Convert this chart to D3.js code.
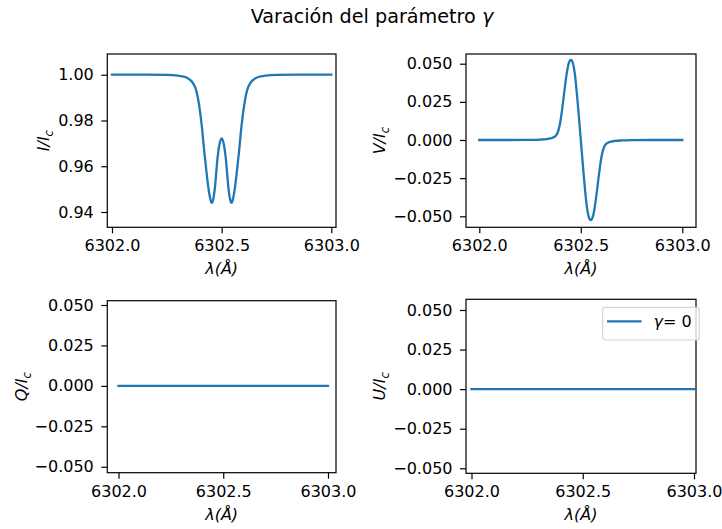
<!DOCTYPE html>
<html>
<head>
<meta charset="utf-8">
<script src="https://cdn.jsdelivr.net/npm/d3@7"></script>
<style>
  body { margin: 0; background: #fff; }
  text { font-family: "DejaVu Sans", sans-serif; fill: #000; }
</style>
</head>
<body>
<svg id="chart" width="722" height="529"></svg>
<script>
// Wavelength grid (Å) for the Fe I 6302.5 line profiles
const wavelength = [
  6302.000, 6302.150, 6302.250, 6302.300, 6302.330, 6302.350, 6302.360, 6302.370,
  6302.383, 6302.390, 6302.398, 6302.409, 6302.421, 6302.433, 6302.439, 6302.444,
  6302.450, 6302.454, 6302.458, 6302.462, 6302.470, 6302.476, 6302.482, 6302.491,
  6302.500,
  6302.509, 6302.518, 6302.524, 6302.530, 6302.538, 6302.542, 6302.546, 6302.550,
  6302.556, 6302.561, 6302.567, 6302.579, 6302.591, 6302.602, 6302.610, 6302.617,
  6302.630, 6302.640, 6302.650, 6302.670, 6302.700, 6302.750, 6302.850, 6303.000
];

// Stokes I / Ic
const stokesI = [
  1.0000, 1.0000, 0.9999, 0.9996, 0.9991, 0.9982, 0.9974, 0.9962,
  0.9935, 0.9907, 0.9862, 0.9780, 0.9662, 0.9557, 0.9510, 0.9478,
  0.9450, 0.9440, 0.9444, 0.9458, 0.9513, 0.9580, 0.9643, 0.9700,
  0.9722,
  0.9700, 0.9643, 0.9580, 0.9513, 0.9458, 0.9444, 0.9440, 0.9450,
  0.9478, 0.9510, 0.9557, 0.9662, 0.9780, 0.9862, 0.9907, 0.9935,
  0.9962, 0.9974, 0.9982, 0.9991, 0.9996, 0.9999, 1.0000, 1.0000
];

// Stokes V / Ic
const stokesV = [
  0.0000, 0.0000, 0.0001, 0.0003, 0.0006, 0.0010, 0.0014, 0.0020,
  0.0040, 0.0065, 0.0110, 0.0210, 0.0340, 0.0455, 0.0495, 0.0515,
  0.0525, 0.0524, 0.0515, 0.0498, 0.0440, 0.0370, 0.0285, 0.0145,
  0.0000,
  -0.0145, -0.0285, -0.0370, -0.0440, -0.0498, -0.0515, -0.0524, -0.0525,
  -0.0515, -0.0495, -0.0455, -0.0340, -0.0210, -0.0110, -0.0065, -0.0040,
  -0.0020, -0.0014, -0.0010, -0.0006, -0.0003, -0.0001, 0.0000, 0.0000
];

// Linear polarisation vanishes for a longitudinal field (gamma = 0)
const wavelengthQU = [6302.0, 6303.0];
const stokesQ = [0.0, 0.0];
const stokesU = [0.0, 0.0];

const xTicks = [6302.0, 6302.5, 6303.0];
const iTicks = [0.94, 0.96, 0.98, 1.00];
const polTicks = [-0.050, -0.025, 0.000, 0.025, 0.050];

const seriesLabel = "= 0";
const COLOR = "#1f77b4";

// Axes layout for the 2x2 grid
const panels = [
  { xs: wavelength, ys: stokesI, sym: "I", box: { l: 107.3, r: 336, t: 54, b: 227.3 },
    xDom: [6301.9786, 6303.0214], yDom: [0.93331, 1.00905], yTicks: iTicks, fmt: ".2f", labelX: 49 },
  { xs: wavelength, ys: stokesV, sym: "V", box: { l: 466, r: 696, t: 54, b: 227.3 },
    xDom: [6301.9345, 6303.0675], yDom: [-0.05721, 0.05636], yTicks: polTicks, fmt: ".3f", labelX: 385 },
  { xs: wavelengthQU, ys: stokesQ, sym: "Q", box: { l: 107.3, r: 336, t: 300.7, b: 472.7 },
    xDom: [6301.9465, 6303.0382], yDom: [-0.0537, 0.05266], yTicks: polTicks, fmt: ".3f", labelX: 27 },
  { xs: wavelengthQU, ys: stokesU, sym: "U", box: { l: 466, r: 696, t: 299.3, b: 473.3 },
    xDom: [6301.9753, 6303.009], yDom: [-0.05316, 0.05676], yTicks: polTicks, fmt: ".3f", labelX: 385,
    legend: true }
];

const svg = d3.select("#chart");

// Figure title
const title = svg.append("text")
  .attr("x", 372).attr("y", 23)
  .attr("text-anchor", "middle")
  .style("font-size", "19.2px");
title.append("tspan").text("Varación del parámetro ");
title.append("tspan").style("font-style", "italic").text("γ");

panels.forEach((p, i) => {
  const { l, r, t, b } = p.box;
  const x = d3.scaleLinear().domain(p.xDom).range([l, r]);
  const y = d3.scaleLinear().domain(p.yDom).range([b, t]);
  const g = svg.append("g");

  const clipId = "clip" + i;
  svg.append("clipPath").attr("id", clipId)
    .append("rect").attr("x", l).attr("y", t).attr("width", r - l).attr("height", b - t);

  // profile
  const line = d3.line().x((d, k) => x(p.xs[k])).y(d => y(d)).curve(d3.curveMonotoneX);
  g.append("path")
    .datum(p.ys)
    .attr("clip-path", `url(#${clipId})`)
    .attr("d", line)
    .attr("fill", "none")
    .attr("stroke", COLOR)
    .attr("stroke-width", 2.3)
    .attr("stroke-linecap", "square")
    .attr("stroke-linejoin", "round");

  // axes
  const xAxis = d3.axisBottom(x).tickValues(xTicks).tickFormat(d3.format(".1f"))
    .tickSizeInner(6).tickSizeOuter(0).tickPadding(6.5);
  const yAxis = d3.axisLeft(y).tickValues(p.yTicks).tickFormat(d3.format(p.fmt))
    .tickSizeInner(6).tickSizeOuter(0).tickPadding(7.5);

  const gx = g.append("g").attr("transform", `translate(0,${b})`).call(xAxis);
  const gy = g.append("g").attr("transform", `translate(${l},0)`).call(yAxis);
  [gx, gy].forEach(ax => {
    ax.select(".domain").remove();
    ax.selectAll(".tick line").attr("stroke", "#000").attr("stroke-width", 1.2);
    ax.selectAll(".tick text").style("font-size", "16px").style("font-family", "DejaVu Sans").attr("fill", "#000");
  });

  // frame
  g.append("rect")
    .attr("x", l).attr("y", t).attr("width", r - l).attr("height", b - t)
    .attr("fill", "none").attr("stroke", "#000").attr("stroke-width", 1.2);

  // x label
  g.append("text")
    .attr("x", (l + r) / 2).attr("y", b + 47)
    .attr("text-anchor", "middle")
    .style("font-size", "16px").style("font-style", "italic")
    .text("λ(Å)");

  // y label
  const yl = g.append("text")
    .attr("transform", `translate(${p.labelX},${(t + b) / 2}) rotate(-90)`)
    .attr("text-anchor", "middle")
    .style("font-size", "16px").style("font-style", "italic");
  yl.append("tspan").text(p.sym + "/I");
  yl.append("tspan").attr("dy", 3.5).style("font-size", "11.5px").text("c");

  if (p.legend) {
    const lx = r - 93.4, ly = t + 8;
    const lg = g.append("g");
    lg.append("rect")
      .attr("x", lx).attr("y", ly).attr("width", 96.7).attr("height", 32.7)
      .attr("rx", 3).attr("ry", 3)
      .attr("fill", "#fff").attr("fill-opacity", 0.8)
      .attr("stroke", "#d6d6d6").attr("stroke-width", 1.2);
    lg.append("line")
      .attr("x1", lx + 4.4).attr("x2", lx + 39)
      .attr("y1", ly + 14).attr("y2", ly + 14)
      .attr("stroke", COLOR).attr("stroke-width", 2.3);
    const lt = lg.append("text")
      .attr("x", lx + 51).attr("y", ly + 19.7)
      .style("font-size", "16px");
    lt.append("tspan").style("font-style", "italic").text("γ");
    lt.append("tspan").text(seriesLabel);
  }
});
</script>
</body>
</html>
